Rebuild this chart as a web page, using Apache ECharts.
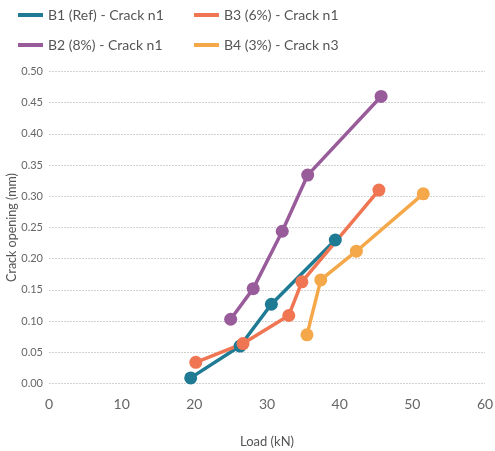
<!DOCTYPE html>
<html><head><meta charset="utf-8">
<script src="https://cdn.jsdelivr.net/npm/echarts@6/dist/echarts.min.js"></script>
<style>html,body{margin:0;padding:0;background:#fff}#c{width:495px;height:451px}</style>
</head><body><div id="c"></div>
<script>
const seriesNames = ['B1 (Ref) - Crack n1', 'B3 (6%) - Crack n1', 'B2 (8%) - Crack n1', 'B4 (3%) - Crack n3'];
const b1Load = [19.5, 26.3, 30.6, 39.4];
const b1Open = [0.009, 0.060, 0.127, 0.230];
const b3Load = [20.2, 26.7, 33.0, 34.8, 45.4];
const b3Open = [0.034, 0.064, 0.109, 0.163, 0.310];
const b2Load = [25.0, 28.1, 32.1, 35.6, 45.7];
const b2Open = [0.103, 0.152, 0.244, 0.334, 0.460];
const b4Load = [35.5, 37.4, 42.3, 51.5];
const b4Open = [0.078, 0.166, 0.212, 0.304];
const colors = ['#1f7b93', '#f07552', '#995c9b', '#f5a84a'];

const zip = (a, b) => a.map((v, i) => [v, b[i]]);
const chart = echarts.init(document.getElementById('c'));
const font = 'Lato, "Open Sans", sans-serif';
const mk = (name, data, color) => ({
  name, type: 'line', data, symbol: 'circle', symbolSize: 13,
  lineStyle: { width: 3.5, color }, itemStyle: { color }, z: 2
});
const legPos = [[18, 8], [194, 8], [18, 38], [194, 38]];
const legends = seriesNames.map((n, i) => ({
  data: [{ name: n, icon: 'path://M0,0 L25,0 L25,4 L0,4 Z' }],
  left: legPos[i][0], top: legPos[i][1], padding: 0,
  itemWidth: 25, itemHeight: 4,
  textStyle: { fontSize: 14, color: '#555', fontFamily: font }
}));
chart.setOption({
  animation: false,
  textStyle: { fontFamily: font },
  legend: legends,
  grid: { left: 49, right: 10, top: 71.5, bottom: 67.5, containLabel: false, outerBoundsMode: 'none' },
  xAxis: {
    type: 'value', min: 0, max: 60, interval: 10,
    name: 'Load (kN)', nameLocation: 'middle', nameGap: 52, nameMoveOverlap: false,
    nameTextStyle: { fontSize: 13, color: '#555' },
    axisLine: { show: false }, axisTick: { show: false },
    splitLine: { show: false },
    axisLabel: { fontSize: 14, color: '#666', margin: 14 }
  },
  yAxis: {
    type: 'value', min: 0, max: 0.5, interval: 0.05,
    name: 'Crack opening (mm)', nameLocation: 'middle', nameGap: 31, nameMoveOverlap: false,
    nameTextStyle: { fontSize: 12.5, color: '#555' },
    axisLine: { show: false }, axisTick: { show: false },
    splitLine: { show: true, lineStyle: { type: [2, 1], color: '#d2d2d2', width: 1 } },
    axisLabel: { fontSize: 11, color: '#666', margin: 6, formatter: v => v.toFixed(2) }
  },
  series: [
    mk(seriesNames[0], zip(b1Load, b1Open), colors[0]),
    mk(seriesNames[1], zip(b3Load, b3Open), colors[1]),
    mk(seriesNames[2], zip(b2Load, b2Open), colors[2]),
    mk(seriesNames[3], zip(b4Load, b4Open), colors[3])
  ]
});
</script></body></html>
